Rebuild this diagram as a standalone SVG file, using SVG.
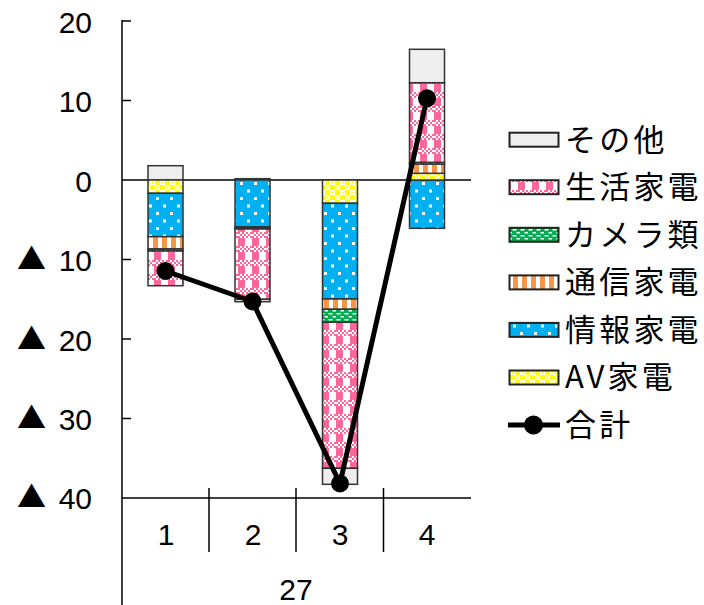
<svg xmlns="http://www.w3.org/2000/svg" width="704" height="605" viewBox="0 0 704 605">
<style>
.seg{stroke:#333;stroke-width:1.5}
.ax{stroke:#000;stroke-width:1.5;fill:none}
.num{font-family:"Liberation Sans","Noto Sans CJK JP",sans-serif;font-size:30px;fill:#000}
.tri{font-family:"Noto Sans CJK JP",sans-serif;font-size:29px;fill:#000}
.leg{font-family:"Noto Sans CJK JP","Liberation Sans",sans-serif;font-size:31px;fill:#000;letter-spacing:3.2px}
.sw{stroke:#222;stroke-width:2}
</style>
<defs>
<pattern id="pPink" width="14" height="14" patternUnits="userSpaceOnUse">
<rect width="14" height="14" fill="#fff"/>
<rect x="0" y="0" width="7" height="8" fill="#FF6699"/>
<g fill="#FF6699">
<rect x="0" y="8" width="2" height="2"/><rect x="4" y="8" width="2" height="2"/><rect x="8" y="8" width="2" height="2"/><rect x="12" y="8" width="2" height="2"/>
<rect x="2" y="10" width="2" height="2"/><rect x="6" y="10" width="2" height="2"/><rect x="10" y="10" width="2" height="2"/>
<rect x="0" y="12" width="2" height="2"/><rect x="4" y="12" width="2" height="2"/><rect x="8" y="12" width="2" height="2"/><rect x="12" y="12" width="2" height="2"/>
</g>
</pattern>
<pattern id="pOrange" width="9" height="9" patternUnits="userSpaceOnUse">
<rect width="9" height="9" fill="#fff"/>
<rect width="5" height="9" fill="#F79646"/>
</pattern>
<pattern id="pBlue" width="14" height="15" patternUnits="userSpaceOnUse">
<rect width="14" height="15" fill="#00B0F0"/>
<rect x="2" y="2" width="3" height="3" fill="#fff"/>
<rect x="9" y="9.5" width="3" height="3" fill="#fff"/>
</pattern>
<pattern id="pYellow" width="10" height="10" patternUnits="userSpaceOnUse">
<rect width="10" height="10" fill="#FFFF00"/>
<rect x="0" y="0" width="5" height="5" fill="#fff"/>
<rect x="5" y="5" width="5" height="5" fill="#fff"/>
<rect x="1.5" y="1.5" width="2" height="2" fill="#FFFF00"/>
<rect x="6.5" y="6.5" width="2" height="2" fill="#FFFF00"/>
</pattern>
<pattern id="pGreen" width="8" height="6" patternUnits="userSpaceOnUse">
<rect width="8" height="6" fill="#00B050"/>
<rect x="0.5" y="1" width="4" height="1.5" fill="#fff"/>
<rect x="4.5" y="4" width="4" height="1.5" fill="#fff"/>
</pattern>
</defs>
<rect width="704" height="605" fill="#fff"/>

<g id="axes">
<line class="ax" x1="122" y1="20" x2="122" y2="605"/>
<g stroke="#000" stroke-width="1.5">
<line x1="122" y1="21" x2="131" y2="21"/>
<line x1="122" y1="100.5" x2="131" y2="100.5"/>
<line x1="122" y1="259.5" x2="131" y2="259.5"/>
<line x1="122" y1="339" x2="131" y2="339"/>
<line x1="122" y1="418.5" x2="131" y2="418.5"/>
<line x1="122" y1="180" x2="471" y2="180"/>
<line x1="122" y1="498" x2="471" y2="498"/>
<line x1="209" y1="488" x2="209" y2="552"/>
<line x1="296" y1="488" x2="296" y2="552"/>
<line x1="383.5" y1="488" x2="383.5" y2="552"/>
</g>
<g class="num" text-anchor="end">
<text x="92" y="33">20</text>
<text x="92" y="112">10</text>
<text x="92" y="191.5">0</text>
<text x="92" y="271">10</text>
<text x="92" y="350.5">20</text>
<text x="92" y="430">30</text>
<text x="92" y="509">40</text>
</g>
<g class="tri">
<text x="17" y="270">▲</text>
<text x="17" y="349.5">▲</text>
<text x="17" y="429">▲</text>
<text x="17" y="508">▲</text>
</g>
<g class="num" text-anchor="middle">
<text x="166" y="545">1</text>
<text x="253" y="545">2</text>
<text x="340" y="545">3</text>
<text x="427" y="545">4</text>
<text x="296" y="600">27</text>
</g>
</g>

<g id="bar1">
<rect class="seg" x="148" y="165.7" width="35" height="14.3" fill="#EEEEEE"/>
<rect class="seg" x="148" y="180" width="35" height="13.3" fill="url(#pYellow)"/>
<rect class="seg" x="148" y="193.3" width="35" height="43.4" fill="url(#pBlue)"/>
<rect class="seg" x="148" y="236.7" width="35" height="12.3" fill="url(#pOrange)"/>
<rect class="seg" x="148" y="249" width="35" height="2" fill="url(#pGreen)"/>
<rect class="seg" x="148" y="251" width="35" height="34.7" fill="url(#pPink)"/>
</g>
<g id="bar2">
<rect class="seg" x="235" y="178.7" width="35" height="1.3" fill="url(#pYellow)"/>
<rect class="seg" x="235" y="180" width="35" height="47" fill="url(#pBlue)"/>
<rect class="seg" x="235" y="227" width="35" height="1" fill="url(#pOrange)"/>
<rect class="seg" x="235" y="228" width="35" height="1" fill="url(#pGreen)"/>
<rect class="seg" x="235" y="229" width="35" height="70.3" fill="url(#pPink)"/>
<rect class="seg" x="235" y="299.3" width="35" height="2.4" fill="#EEEEEE"/>
</g>
<g id="bar3">
<rect class="seg" x="322.5" y="180" width="35" height="23.3" fill="url(#pYellow)"/>
<rect class="seg" x="322.5" y="203.3" width="35" height="95.7" fill="url(#pBlue)"/>
<rect class="seg" x="322.5" y="299" width="35" height="10.3" fill="url(#pOrange)"/>
<rect class="seg" x="322.5" y="309.3" width="35" height="13" fill="url(#pGreen)"/>
<rect class="seg" x="322.5" y="322.3" width="35" height="146" fill="url(#pPink)"/>
<rect class="seg" x="322.5" y="468.3" width="35" height="16" fill="#EEEEEE"/>
</g>
<g id="bar4">
<rect class="seg" x="409.5" y="180" width="35" height="48.3" fill="url(#pBlue)"/>
<rect class="seg" x="409.5" y="173.3" width="35" height="6.7" fill="url(#pYellow)"/>
<rect class="seg" x="409.5" y="164" width="35" height="9.3" fill="url(#pOrange)"/>
<rect class="seg" x="409.5" y="162.3" width="35" height="1.7" fill="url(#pGreen)"/>
<rect class="seg" x="409.5" y="82.7" width="35" height="79.6" fill="url(#pPink)"/>
<rect class="seg" x="409.5" y="49.3" width="35" height="33.4" fill="#EEEEEE"/>
</g>

<g id="connectors">
<polyline points="165.5,271 252.5,301.5 340,483.5 427,98.3" fill="none" stroke="#000" stroke-width="5" stroke-linejoin="round"/>
<g fill="#000">
<circle cx="165.5" cy="271" r="9"/>
<circle cx="252.5" cy="301.5" r="9"/>
<circle cx="340" cy="483.5" r="9"/>
<circle cx="427" cy="98.3" r="9"/>
</g>
</g>

<g id="legend">
<g id="leg-other"><rect class="sw" x="509.5" y="132.7" width="49" height="14" fill="#EEEEEE"/><text class="leg" x="565" y="150.5">その他</text></g>
<g id="leg-life"><rect class="sw" x="509.5" y="180.2" width="49" height="14" fill="url(#pPink)"/><text class="leg" x="565" y="198">生活家電</text></g>
<g id="leg-camera"><rect class="sw" x="509.5" y="227.8" width="49" height="14" fill="url(#pGreen)"/><text class="leg" x="565" y="245.6">カメラ類</text></g>
<g id="leg-comm"><rect class="sw" x="509.5" y="275.4" width="49" height="14" fill="url(#pOrange)"/><text class="leg" x="565" y="293.2">通信家電</text></g>
<g id="leg-info"><rect class="sw" x="509.5" y="322.9" width="49" height="14" fill="url(#pBlue)"/><text class="leg" x="565" y="340.7">情報家電</text></g>
<g id="leg-av"><rect class="sw" x="509.5" y="370.5" width="49" height="14" fill="url(#pYellow)"/><text class="leg" x="565" y="388.3">AV家電</text></g>
<g id="leg-total"><line x1="508" y1="425" x2="560" y2="425" stroke="#000" stroke-width="5"/><circle cx="533.5" cy="425" r="9.5" fill="#000"/><text class="leg" x="565" y="436">合計</text></g>
</g>
</svg>
